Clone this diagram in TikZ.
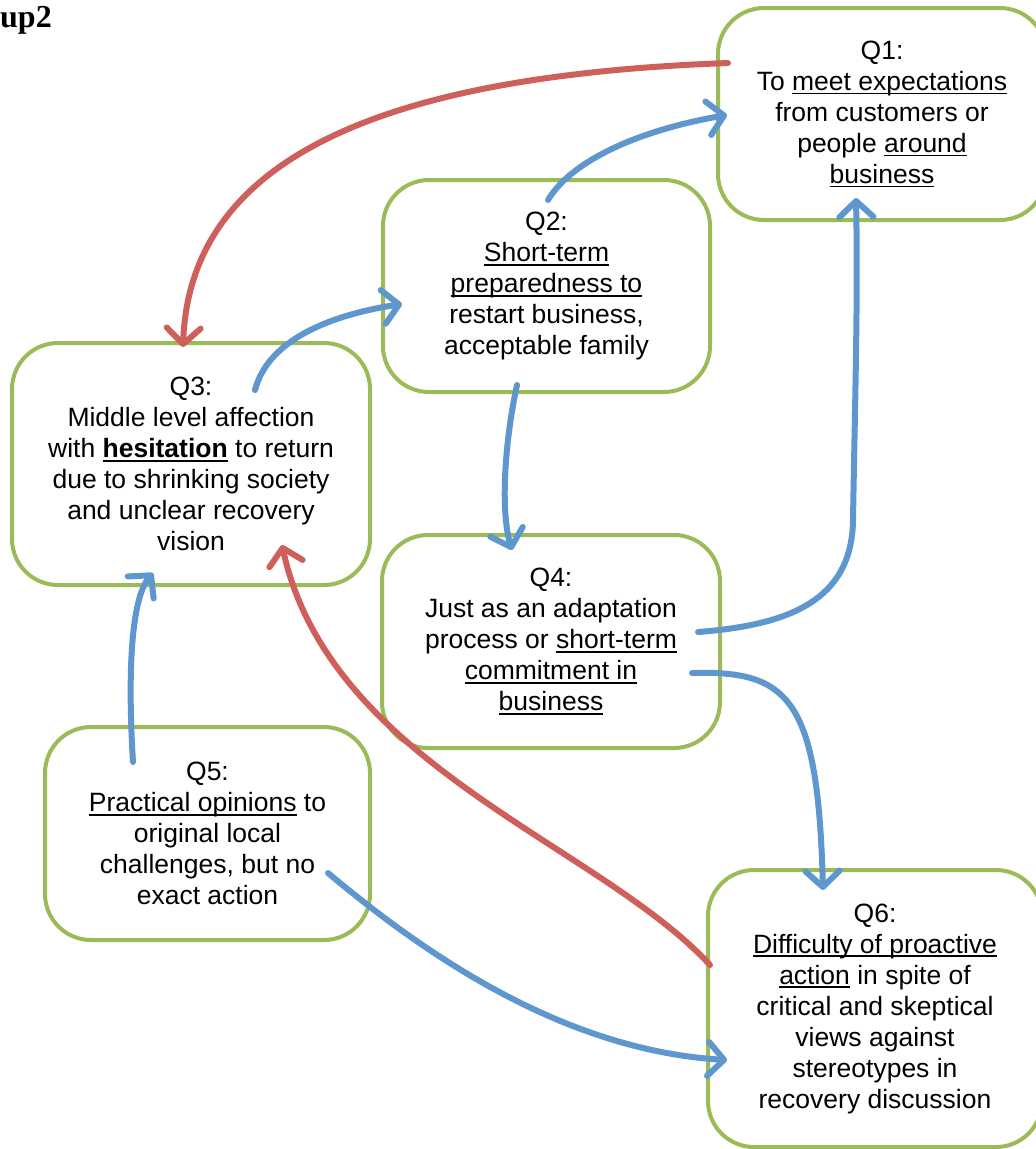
\documentclass[tikz,border=0pt]{standalone}
\usepackage{fontspec}
\setmainfont{Liberation Sans}
\newfontfamily\headserif{Liberation Serif}
\usetikzlibrary{arrows.meta}

\definecolor{boxgreen}{HTML}{9BBB59}
\definecolor{linkred}{HTML}{CF5F5A}
\definecolor{linkblue}{HTML}{5E96CE}

% underline drawn at a fixed depth under the baseline
\newcommand\uln[1]{\leavevmode\setbox0\hbox{#1}\rlap{\rule[-4pt]{\wd0}{1.6pt}}\box0\relax}

\tikzset{
  qbox/.style={draw=boxgreen, line width=4pt, rounded corners=46pt,
    align=center, inner sep=0pt, font=\fontsize{26.5}{31}\selectfont},
  link/.style={line width=6pt, line cap=round,
    -{Straight Barb[length=16pt,width=34pt,line width=6pt,round]}},
  redlink/.style={link, draw=linkred},
  bluelink/.style={link, draw=linkblue},
}

\begin{document}
\begin{tikzpicture}[x=1pt,y=-1pt]
\useasboundingbox (0,0) rectangle (1036,1149);
\clip (0,0) rectangle (1036,1149);

\node[anchor=base west, inner sep=0pt, font=\headserif\bfseries\fontsize{32}{36}\selectfont] (title) at (0,27) {up2};

% question boxes
\node[qbox, minimum width=328pt, minimum height=212pt] (q1) at (882,114)
  {Q1:\\ To \uln{meet expectations}\\ from customers or\\ people \uln{around}\\ \uln{business}};
\node[qbox, minimum width=327pt, minimum height=212pt] (q2) at (546.5,286)
  {Q2:\\ \uln{Short-term}\\ \uln{preparedness to}\\ restart business,\\ acceptable family};
\node[qbox, minimum width=358pt, minimum height=242pt] (q3) at (191,464)
  {Q3:\\ Middle level affection\\ with \uln{\textbf{hesitation}} to return\\ due to shrinking society\\ and unclear recovery\\ vision};
\node[qbox, minimum width=338pt, minimum height=213pt] (q4) at (551,641.5)
  {Q4:\\ Just as an adaptation\\ process or \uln{short-term}\\ \uln{commitment in}\\ \uln{business}};
\node[qbox, minimum width=325pt, minimum height=213pt] (q5) at (207.5,833.5)
  {Q5:\\ \uln{Practical opinions} to\\ original local\\ challenges, but no\\ exact action};
\node[qbox, minimum width=334pt, minimum height=277pt] (q6) at (875,1008.5)
  {Q6:\\ \uln{Difficulty of proactive}\\ \uln{action} in spite of\\ critical and skeptical\\ views against\\ stereotypes in\\ recovery discussion};

% connector end points on the box borders
\coordinate (q1w)  at (728,63);
\coordinate (q1wl) at (727,115);
\coordinate (q1s)  at (856,198);
\coordinate (q2n)  at (548,200);
\coordinate (q2w)  at (402,304);
\coordinate (q2s)  at (517,385);
\coordinate (q3n)  at (183,347);
\coordinate (q3ni) at (255,390);
\coordinate (q3s)  at (282,545);
\coordinate (q3sl) at (153,573);
\coordinate (q4n)  at (512,550);
\coordinate (q4e)  at (698,632);
\coordinate (q4el) at (692,673);
\coordinate (q5n)  at (133,762);
\coordinate (q5e)  at (328,873);
\coordinate (q6n)  at (823,890);
\coordinate (q6w)  at (710,965);
\coordinate (q6wl) at (727,1060);

% red links
\draw[redlink] (q1w) .. controls (400,75) and (190,150) .. (q3n);
\draw[redlink] (q6w) .. controls (600,845) and (330,765) .. (q3s);

% blue links
\draw[bluelink] (q3ni) .. controls (268,340) and (330,315) .. (q2w);
\draw[bluelink] (q2n) .. controls (572,160) and (640,130) .. (q1wl);
\draw[bluelink] (q2s) .. controls (505,440) and (500,510) .. (q4n);
\draw[bluelink] (q4e) .. controls (790,625) and (852,600) .. (853,520)
  .. controls (855,400) and (858,300) .. (q1s);
\draw[bluelink] (q4el) .. controls (790,670) and (818,700) .. (q6n);
\draw[bluelink] (q5n) .. controls (128,680) and (130,600) .. (q3sl);
\draw[bluelink] (q5e) .. controls (420,950) and (560,1050) .. (q6wl);
\end{tikzpicture}
\end{document}
